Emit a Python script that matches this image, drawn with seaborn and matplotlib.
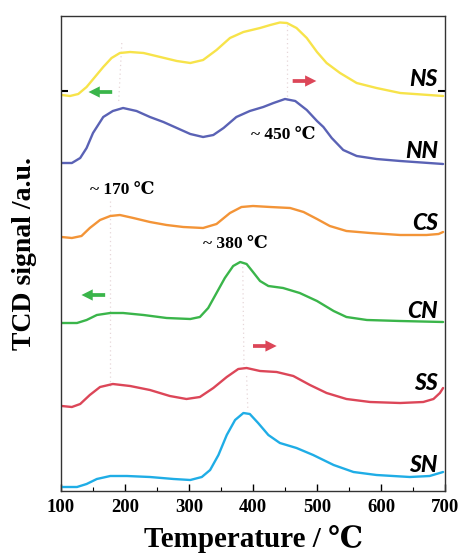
import numpy as np
import pandas as pd
import matplotlib
matplotlib.use("Agg")
import matplotlib.pyplot as plt
import seaborn as sns

# ---- data (signal heights, arbitrary units) ----
T_NS = [101, 114, 127, 140, 153, 166, 179, 192, 208, 229, 255, 281, 302, 322, 343, 364, 385, 411, 427, 442, 453, 468, 484, 500, 515, 536, 562, 593, 630, 697]
NS = [396, 395, 397, 404, 414, 424, 433, 438, 439, 438, 434, 430, 428, 431, 441, 453, 459, 463, 466, 468.5, 468, 463, 453, 439, 428, 418, 408, 403, 398, 395]

T_NN = [101, 117, 130, 140, 150, 156, 166, 181, 197, 218, 239, 260, 281, 302, 322, 338, 354, 374, 395, 416, 432, 450, 466, 484, 500, 510, 523, 541, 562, 593, 630, 697]
NN = [328, 328, 333, 343, 358, 364, 374, 380, 383, 380, 374, 369, 363, 357, 354, 356, 363, 374, 380, 384, 388, 392, 390, 381, 370, 364, 353, 341, 335, 332, 330, 327]

T_CS = [101, 117, 132, 145, 161, 177, 192, 213, 239, 265, 291, 322, 343, 364, 382, 400, 427, 458, 479, 500, 520, 546, 583, 630, 671, 690, 697]
CS = [254, 253, 255, 263, 271, 275, 276, 273, 269, 266, 264, 263, 267, 278, 284, 285, 284, 283, 279, 272, 265, 260, 258, 256, 256, 257, 259]

T_CN = [101, 125, 140, 156, 177, 197, 229, 265, 302, 317, 330, 343, 356, 369, 380, 390, 400, 411, 424, 447, 473, 500, 526, 546, 578, 630, 697]
CN = [168, 168, 171, 176, 178, 178, 176, 173, 172, 174, 183, 198, 213, 225, 229, 227, 219, 210, 205, 203, 198, 190, 180, 174, 171, 170, 169]

T_SS = [101, 117, 130, 145, 161, 181, 208, 239, 270, 296, 317, 338, 359, 377, 390, 411, 437, 463, 489, 515, 546, 583, 630, 666, 682, 692, 697]
SS = [85, 84, 87, 96, 104, 107, 105, 101, 95, 92, 94, 103, 114, 122, 123, 120, 119, 115, 106, 98, 92, 89, 88, 89, 92, 98, 103]

T_SN = [101, 125, 140, 156, 177, 203, 239, 276, 302, 320, 333, 346, 359, 372, 385, 395, 408, 424, 442, 468, 494, 526, 557, 593, 645, 676, 697]
SN = [4, 4, 7, 12, 15, 15, 14, 12, 11, 14, 21, 36, 56, 71, 78, 77, 68, 56, 48, 43, 36, 26, 19, 16, 14, 15, 19]

samples = ["NS", "NN", "CS", "CN", "SS", "SN"]
temps = [T_NS, T_NN, T_CS, T_CN, T_SS, T_SN]
signals = [NS, NN, CS, CN, SS, SN]
colors = ["#f7e34a", "#5a62b5", "#f39437", "#3ab54a", "#dc4658", "#1fade6"]
peak_labels = ["~ 450 \u2103", "~ 170 \u2103", "~ 380 \u2103"]
xticks = [100, 200, 300, 400, 500, 600, 700]

rows = []
for s, t, v in zip(samples, temps, signals):
    for a, b in zip(t, v):
        rows.append({"sample": s, "T": a, "signal": b})
df = pd.DataFrame(rows)

sns.set_theme(style="ticks")
serif = ["Liberation Serif", "DejaVu Serif", "Noto Sans CJK SC"]
plt.rcParams["font.family"] = serif
plt.rcParams["text.color"] = "black"
plt.rcParams["axes.labelcolor"] = "black"
plt.rcParams["xtick.color"] = "black"
plt.rcParams["ytick.color"] = "black"

fig = plt.figure(figsize=(4.59, 5.55), dpi=100)
ax = fig.add_axes([61 / 459, 64 / 555, 384 / 459, 475 / 555])

# faint dotted guide lines
guide = dict(color="#e6d6d8", lw=0.9, ls=(0, (1, 2.5)), zorder=0)
ax.plot([195, 190], [448, 388], **guide)
ax.plot([453, 453], [466, 391], **guide)
ax.plot([176, 176], [290, 105], **guide)
ax.plot([384, 386], [224, 120], **guide)
ax.plot([390, 392], [115, 80], **guide)

sns.lineplot(data=df, x="T", y="signal", hue="sample", hue_order=samples,
             palette=colors, lw=1.7, legend=False, ax=ax, sort=True,
             estimator=None)
for ln in ax.lines:
    ln.set_solid_joinstyle("round")
    ln.set_solid_capstyle("round")

ax.set_xlim(100, 700)
ax.set_ylim(0, 475)
ax.set_xticks(xticks)
ax.set_xticks([150, 250, 350, 450, 550, 650], minor=True)
ax.set_xticklabels([str(x) for x in xticks], fontsize=13.5, fontweight="bold")
ax.set_yticks([400])
ax.set_yticklabels([])
ax.tick_params(axis="x", which="major", direction="in", length=5, width=1, pad=6)
ax.tick_params(axis="x", which="minor", direction="in", length=3, width=0.8)
ax.tick_params(axis="y", which="both", direction="in", length=5, width=1.5, left=True, right=True)
for sp in ax.spines.values():
    sp.set_linewidth(1.0)
    sp.set_color("#333333")

ax.set_xlabel("Temperature / \u2103", fontsize=21, fontweight="bold", labelpad=6)
ax.set_ylabel("TCD signal /a.u.", fontsize=20, fontweight="bold", labelpad=14)

# sample labels
label_h = [411, 339, 268, 179, 108, 26]
for s, h in zip(samples, label_h):
    ax.text(689, h, s, ha="right", va="center", fontsize=16.5, fontweight="black",
            fontstyle="italic", color="black", family=["Lato", "Liberation Sans", "DejaVu Sans"])

# peak annotations
ax.text(448, 356, peak_labels[0], ha="center", va="center", fontsize=12.5, fontweight="bold")
ax.text(196, 301, peak_labels[1], ha="center", va="center", fontsize=12.5, fontweight="bold")
ax.text(373, 247, peak_labels[2], ha="center", va="center", fontsize=12.5, fontweight="bold")

# shift arrows
astyle = "simple,head_length=0.9,head_width=0.9,tail_width=0.3"
def arrow(x0, x1, y, c):
    ax.annotate("", xy=(x1, y), xytext=(x0, y),
                arrowprops=dict(arrowstyle=astyle, color=c, lw=0, mutation_scale=9,
                                shrinkA=0, shrinkB=0))

arrow(180, 143, 399, "#3ab54a")
arrow(462, 499, 410, "#dc4658")
arrow(169, 132, 196, "#3ab54a")
arrow(400, 437, 145, "#dc4658")

fig.savefig("out.png", dpi=100)
